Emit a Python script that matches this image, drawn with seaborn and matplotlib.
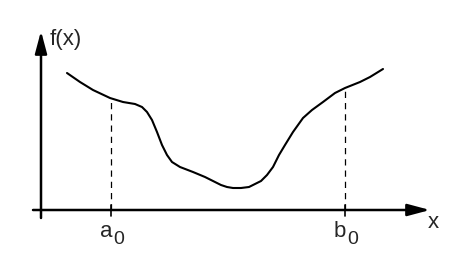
import matplotlib
matplotlib.use("Agg")
import matplotlib.pyplot as plt
import seaborn as sns
import pandas as pd

# curve values (x relative to y-axis, f(x) relative to x-axis)
curve_x = [26, 39, 52, 69, 82, 94, 101, 106, 111, 116, 121, 126, 131, 139,
           152, 164, 172, 180, 186, 192, 200, 208, 214, 220, 226, 232, 238,
           244, 252, 262, 271, 282, 294, 304, 319, 329, 342]
curve_y = [137, 128, 120, 112, 108, 106, 103, 98, 90, 78, 65, 55, 48, 43,
           38, 33, 29, 25, 23, 22, 22, 23, 26, 29, 35, 43, 55,
           65, 78, 92, 100, 108, 117, 122, 128, 133, 141]

marker_x = [70, 304]
marker_y = [110, 122]
marker_labels = ["a", "b"]
marker_sub = ["0", "0"]
axis_labels = ["f(x)", "x"]

sns.set_style("white")
plt.rcParams["font.family"] = ["Liberation Sans", "DejaVu Sans"]

fig = plt.figure(figsize=(4.64, 2.54), dpi=100)
ax = fig.add_axes([0, 0, 1, 1])
ax.set_xlim(-41, 423)
ax.set_ylim(-44, 210)
ax.axis("off")

df = pd.DataFrame({"x": curve_x, "y": curve_y})
sns.lineplot(data=df, x="x", y="y", sort=False, color="black", lw=1.5, ax=ax)

arrow = dict(arrowstyle="-|>,head_length=0.9,head_width=0.24", lw=1.8,
             color="black", mutation_scale=15, shrinkA=0, shrinkB=0)
ax.annotate("", xy=(0, 179), xytext=(0, -8), arrowprops=arrow)
ax.annotate("", xy=(389, 0), xytext=(-8, 0), arrowprops=arrow)

for mx, my, lab, sub in zip(marker_x, marker_y, marker_labels, marker_sub):
    ax.plot([mx, mx], [0, my], color="black", lw=0.9, ls=(0, (5, 4)))
    ax.plot([mx, mx], [-6, 5], color="black", lw=1.2)
    ax.text(mx - 11, -27, lab, fontsize=16, ha="left", va="baseline")
    ax.text(mx + 2, -34, sub, fontsize=14, ha="left", va="baseline")

ax.text(9, 165, axis_labels[0], fontsize=16, ha="left", va="baseline")
ax.text(387, -18, axis_labels[1], fontsize=16, ha="left", va="baseline")

fig.savefig("out.png", dpi=100)
